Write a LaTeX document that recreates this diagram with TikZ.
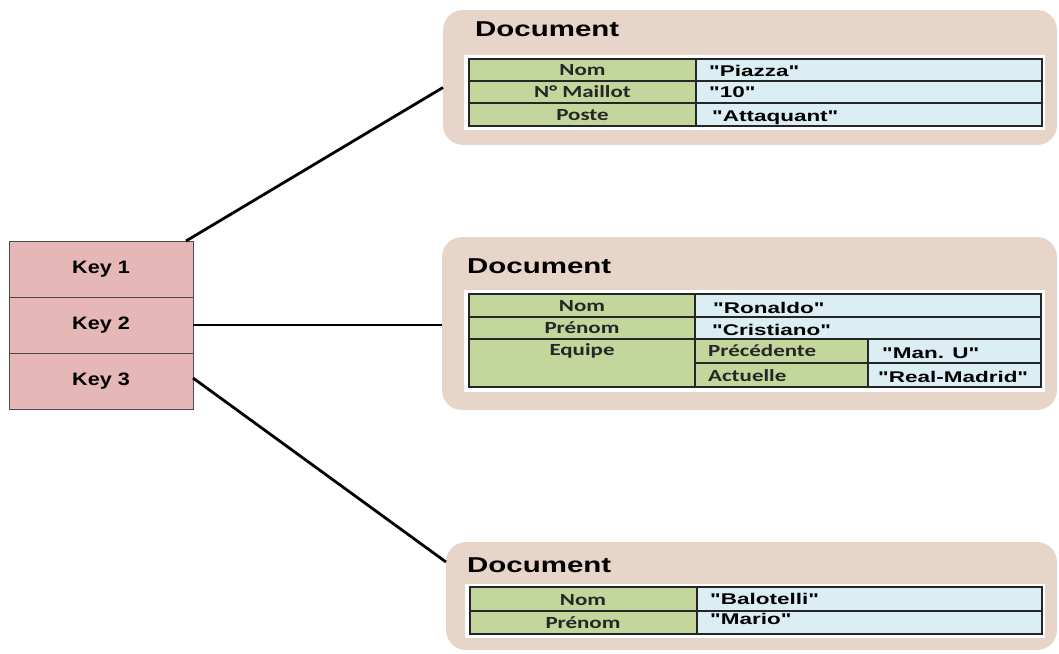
\documentclass[tikz,border=0pt]{standalone}
\usepackage{graphicx}
\usepackage{fontspec}
\setmainfont{Liberation Sans}[Ligatures=TeXOff]
\newfontfamily\calfont{Carlito}[Ligatures=TeXOff]
\usetikzlibrary{positioning}

\definecolor{docbg}{RGB}{232,213,201}
\definecolor{keybg}{RGB}{229,184,183}
\definecolor{namebg}{RGB}{195,214,155}
\definecolor{valbg}{RGB}{218,238,243}
\newcommand{\widetxt}[2][1.35]{\scalebox{#1}[1]{#2}}

\tikzset{
    docbox/.style={fill=docbg, rounded corners=20pt, inner sep=0pt, outer sep=0pt},
    keybox/.style={draw=black!70, fill=keybg, minimum width=184pt, minimum height=56pt, inner sep=0pt, outer sep=0pt, font=\bfseries\fontsize{18}{20}\selectfont},
    namecell/.style={draw=black!85, fill=namebg, line width=1.4pt},
    valcell/.style={draw=black!85, fill=valbg, line width=1.4pt},
    doctitle/.style={anchor=base west, inner sep=0pt, font=\bfseries\fontsize{21.5}{24}\selectfont},
    namelbl/.style={anchor=base, inner sep=0pt, text=black!85, font=\calfont\bfseries\fontsize{17}{18}\selectfont},
    sublbl/.style={namelbl, anchor=base west},
    vallbl/.style={anchor=base west, inner sep=0pt, font=\bfseries\fontsize{15.5}{18}\selectfont},
    link/.style={line width=2.8pt}
}

\begin{document}
\begin{tikzpicture}[x=1pt, y=-1pt]
        \useasboundingbox (0,0) rectangle (1059,653);
        % keys
        \node[keybox] (key1) at (101,269) {\widetxt[1.2]{Key 1}};
        \node[keybox, below=0pt of key1] (key2) {\widetxt[1.2]{Key 2}};
        \node[keybox, below=0pt of key2] (key3) {\widetxt[1.2]{Key 3}};
        % documents
        \node[docbox, minimum width=614pt, minimum height=135pt] (doc1) at (750,77.5) {};
        \node[docbox, minimum width=615pt, minimum height=173pt] (doc2) at (749.5,323.5) {};
        \node[docbox, minimum width=611pt, minimum height=108pt] (doc3) at (751.5,596) {};
        \draw[link] ([xshift=-7pt]key1.north east) -- ([yshift=-10pt]doc1.west);
        \draw[link] (key2.east) -- (key2.east -| doc2.west);
        \draw[link] ([yshift=3pt]key3.east) -- ([yshift=34pt]doc3.west);
        % document 1
        \node[doctitle] (title1) at (475,36) {\widetxt[1.37]{Document}};
        \fill[white] (464,55) rectangle (1045,130);
        \filldraw[namecell] (469,59) rectangle (696,81);
        \filldraw[namecell] (469,81) rectangle (696,103);
        \filldraw[namecell] (469,103) rectangle (696,126);
        \filldraw[valcell] (696,59) rectangle (1042,81);
        \filldraw[valcell] (696,81) rectangle (1042,103);
        \filldraw[valcell] (696,103) rectangle (1042,126);
        \node[namelbl] (nom1) at (582.5,75) {\widetxt{Nom}};
        \node[namelbl] (num1) at (582.5,97) {\widetxt{N° Maillot}};
        \node[namelbl] (poste1) at (582.5,120) {\widetxt{Poste}};
        \node[vallbl] (v11) at (709,76) {\widetxt[1.45]{"Piazza"}};
        \node[vallbl] (v12) at (709,97) {\widetxt[1.45]{"10"}};
        \node[vallbl] (v13) at (712,121) {\widetxt[1.45]{"Attaquant"}};
        % document 2
        \node[doctitle] (title2) at (467,273) {\widetxt[1.37]{Document}};
        \fill[white] (464,290) rectangle (1045,392);
        \filldraw[namecell] (469,294) rectangle (695,317);
        \filldraw[namecell] (469,317) rectangle (695,339);
        \filldraw[namecell] (469,339) rectangle (695,387);
        \filldraw[valcell] (695,294) rectangle (1041,317);
        \filldraw[valcell] (695,317) rectangle (1041,339);
        \filldraw[namecell] (695,339) rectangle (868,363);
        \filldraw[namecell] (695,363) rectangle (868,387);
        \filldraw[valcell] (868,339) rectangle (1041,363);
        \filldraw[valcell] (868,363) rectangle (1041,387);
        \node[namelbl] (nom2) at (582,311) {\widetxt{Nom}};
        \node[namelbl] (pre2) at (582,333) {\widetxt{Prénom}};
        \node[namelbl] (eq2) at (582,355) {\widetxt{Equipe}};
        \node[sublbl] (prec2) at (708,356) {\widetxt{Précédente}};
        \node[sublbl] (act2) at (708,381) {\widetxt{Actuelle}};
        \node[vallbl] (v21) at (713,313) {\widetxt[1.45]{"Ronaldo"}};
        \node[vallbl] (v22) at (712,335) {\widetxt[1.45]{"Cristiano"}};
        \node[vallbl] (v23) at (882,358) {\widetxt[1.45]{"Man. U"}};
        \node[vallbl] (v24) at (878,382) {\widetxt[1.45]{"Real-Madrid"}};
        % document 3
        \node[doctitle] (title3) at (467,572) {\widetxt[1.37]{Document}};
        \fill[white] (465,584) rectangle (1045,638);
        \filldraw[namecell] (470,587) rectangle (697,611);
        \filldraw[namecell] (470,611) rectangle (697,634);
        \filldraw[valcell] (697,587) rectangle (1042,611);
        \filldraw[valcell] (697,611) rectangle (1042,634);
        \node[namelbl] (nom3) at (583,605) {\widetxt{Nom}};
        \node[namelbl] (pre3) at (583,628) {\widetxt{Prénom}};
        \node[vallbl] (v31) at (710,604) {\widetxt[1.45]{"Balotelli"}};
        \node[vallbl] (v32) at (710,624) {\widetxt[1.45]{"Mario"}};
    \end{tikzpicture}
\end{document}
